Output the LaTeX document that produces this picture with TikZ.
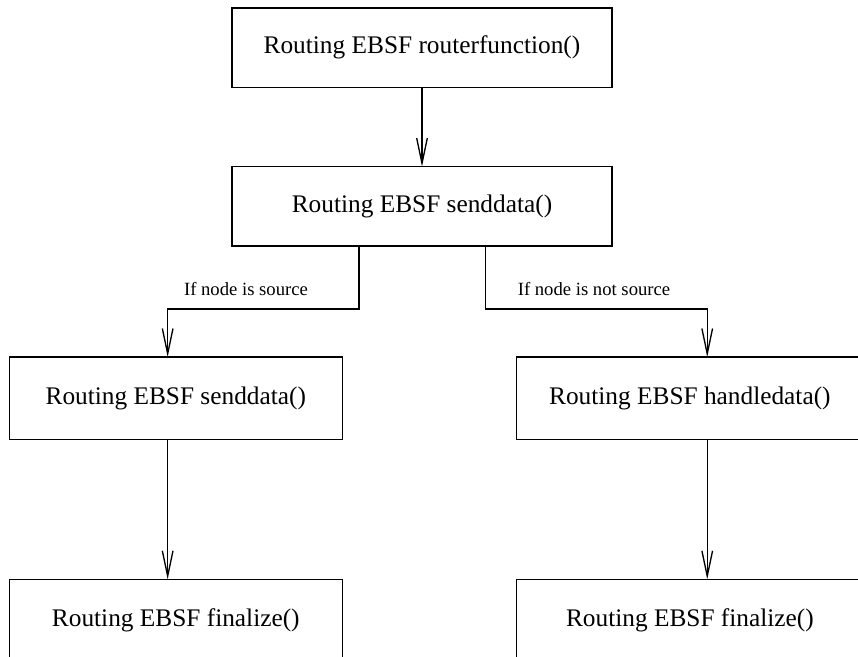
\documentclass[tikz,border=0pt]{standalone}
\usepackage{fontspec}
\setmainfont{Liberation Serif}
\usetikzlibrary{arrows.meta}
\tikzset{
  fnbox/.style={draw, line width=1pt, inner sep=0pt, outer sep=0pt,
    minimum height=61.7pt, font=\fontsize{19}{23}\selectfont},
  flow/.style={line width=1pt,
    -{Straight Barb[length=19pt,width=8pt,line width=1pt]}},
  cond/.style={font=\fontsize{14}{17}\selectfont},
}
\begin{document}
\begin{tikzpicture}[x=0.75pt,y=-0.75pt]
  \useasboundingbox (0,0) rectangle (858,657);
  \clip (0,0) rectangle (858,657);
  \node[fnbox, minimum width=285.2pt, minimum height=59.5pt] (router) at (422,47.7) {Routing EBSF routerfunction()};
  \node[fnbox, minimum width=285.2pt, minimum height=59.5pt] (send) at (422,206.3) {Routing EBSF senddata()};
  \node[fnbox, minimum width=249.75pt] (srcsend) at (175.8,398.2) {Routing EBSF senddata()};
  \node[fnbox, minimum width=259.7pt] (handle) at (689.9,398.2) {Routing EBSF handledata()};
  \node[fnbox, minimum width=249.75pt] (srcfin) at (175.8,620.5) {Routing EBSF finalize()};
  \node[fnbox, minimum width=259.7pt] (handlefin) at (689.9,620.5) {Routing EBSF finalize()};
  \coordinate (splitL) at (359,309);
  \coordinate (splitR) at (485.3,309);
  \draw[flow] (router) -- (send);
  \draw[flow] (send.south -| splitL) -- (splitL) -| ([xshift=-6.1pt]srcsend.north);
  \draw[flow] (send.south -| splitR) -- (splitR) -| ([xshift=13pt]handle.north);
  \draw[flow] ([xshift=-6.1pt]srcsend.south) -- ([xshift=-6.1pt]srcfin.north);
  \draw[flow] ([xshift=13pt]handle.south) -- ([xshift=13pt]handlefin.north);
  \node[cond] (srclbl) at (246,289) {If node is source};
  \node[cond] (notsrclbl) at (594,289) {If node is not source};
\end{tikzpicture}
\end{document}
